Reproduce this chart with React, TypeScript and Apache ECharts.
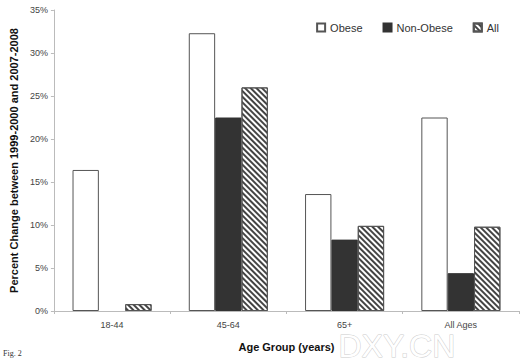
import React, { useEffect, useRef } from "react";
import * as echarts from "echarts";

const categories = ["18-44", "45-64", "65+", "All Ages"];
const obese = [16.4, 32.3, 13.6, 22.5];
const nonObese = [null, 22.5, 8.3, 4.4];
const allGroup = [0.8, 26.0, 9.9, 9.8];
const seriesNames = ["Obese", "Non-Obese", "All"];

export default function App() {
  const ref = useRef<HTMLDivElement>(null);
  useEffect(() => {
    if (!ref.current) return;
    const chart = echarts.init(ref.current, null, { renderer: "svg" });
    const font = "Liberation Sans, Arial, sans-serif";
    chart.setOption({
      animation: false,
      backgroundColor: "#fff",
      textStyle: { fontFamily: font },
      grid: { left: 47, top: 10, right: 7, bottom: 51, containLabel: false },
      legend: {
        top: 17,
        right: 22,
        itemWidth: 8,
        itemHeight: 8,
        itemGap: 20,
        icon: "rect",
        textStyle: { fontSize: 11, color: "#333", fontFamily: font },
        data: seriesNames,
      },
      xAxis: {
        type: "category",
        data: categories,
        name: "Age Group (years)",
        nameLocation: "middle",
        nameGap: 30,
        nameTextStyle: { fontSize: 11, fontWeight: "bold", color: "#111" },
        axisLine: { lineStyle: { color: "#bbb" } },
        axisTick: { show: true, length: 3, lineStyle: { color: "#bbb" } },
        axisLabel: { fontSize: 9, color: "#444", margin: 9 },
      },
      yAxis: {
        type: "value",
        min: 0,
        max: 35,
        interval: 5,
        name: "Percent Change between 1999-2000 and 2007-2008",
        nameLocation: "middle",
        nameGap: 33,
        nameTextStyle: { fontSize: 11, fontWeight: "bold", color: "#111" },
        axisLine: { show: true, lineStyle: { color: "#bbb" } },
        axisTick: { show: true, length: 3, lineStyle: { color: "#bbb" } },
        splitLine: { show: false },
        axisLabel: { fontSize: 9, color: "#444", formatter: "{value}%", margin: 6 },
      },
      series: [
        {
          name: "Obese",
          type: "bar",
          data: obese,
          barGap: "0%",
          barCategoryGap: "32%",
          itemStyle: { color: "#fff", borderColor: "#555", borderWidth: 1 },
        },
        {
          name: "Non-Obese",
          type: "bar",
          data: nonObese,
          itemStyle: { color: "#333", borderColor: "#333", borderWidth: 1 },
        },
        {
          name: "All",
          type: "bar",
          data: allGroup,
          itemStyle: {
            color: "#fff",
            borderColor: "#555",
            borderWidth: 1,
            decal: {
              symbol: "rect",
              symbolSize: 1,
              dashArrayX: [1, 0],
              dashArrayY: [1.2, 1.8],
              rotation: Math.PI / 4,
              color: "#444",
              backgroundColor: "#fff",
            },
          },
        },
      ],
      graphic: [
        {
          type: "text",
          left: 3,
          top: 349,
          style: { text: "Fig. 2", fontSize: 8, fontFamily: "Liberation Serif, serif", fill: "#333" },
        },
        {
          type: "text",
          left: 338,
          top: 329,
          style: {
            text: "DXY.CN",
            fontSize: 32,
            fontFamily: font,
            fill: "#fff",
            stroke: "#ccc",
            lineWidth: 1,
          },
        },
      ],
    });
    return () => chart.dispose();
  }, []);
  return <div ref={ref} style={{ width: 526, height: 362, position: "absolute", left: 0, top: 0 }} />;
}
